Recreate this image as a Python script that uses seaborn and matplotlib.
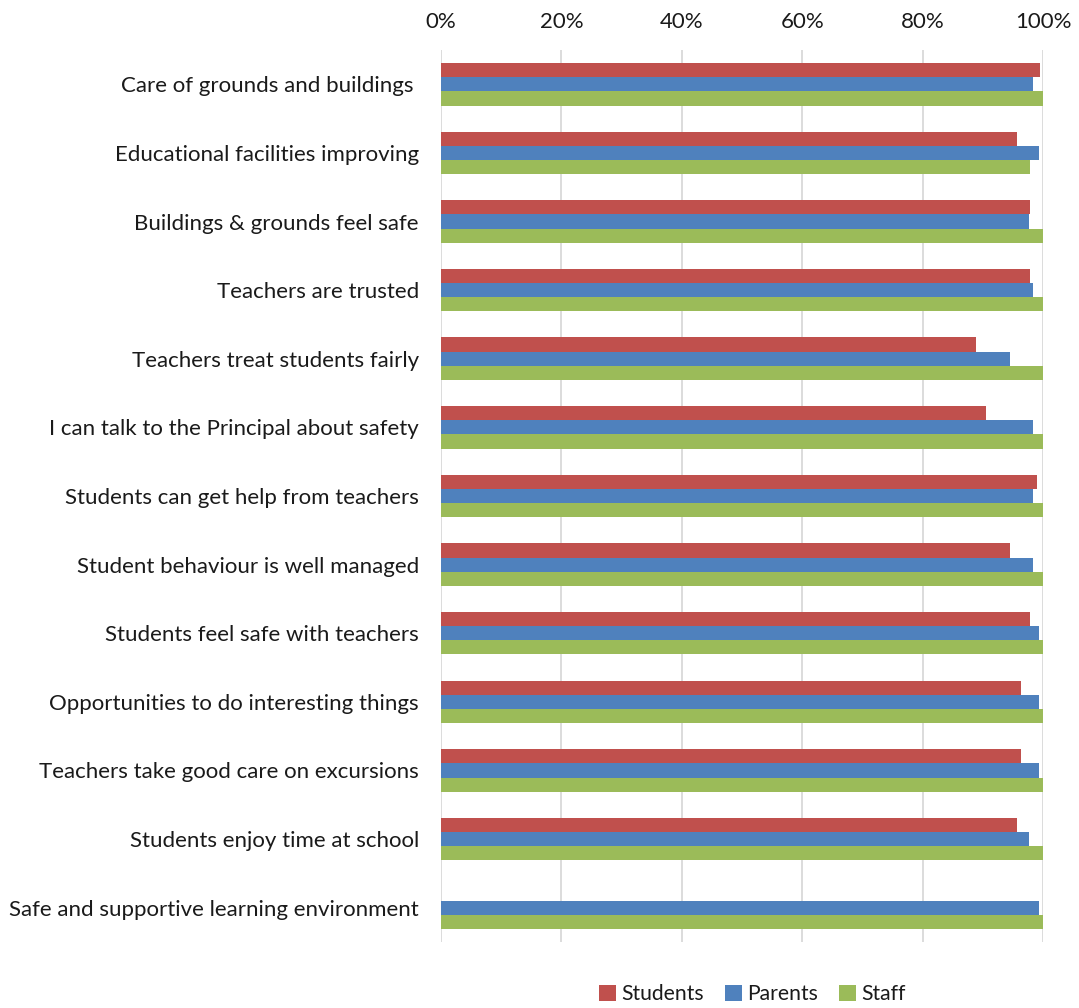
import matplotlib
matplotlib.use("Agg")
import matplotlib.pyplot as plt
import seaborn as sns
import pandas as pd
import numpy as np
from matplotlib.ticker import PercentFormatter

categories = [
    "Care of grounds and buildings ",
    "Educational facilities improving",
    "Buildings & grounds feel safe",
    "Teachers are trusted",
    "Teachers treat students fairly",
    "I can talk to the Principal about safety",
    "Students can get help from teachers",
    "Student behaviour is well managed",
    "Students feel safe with teachers",
    "Opportunities to do interesting things",
    "Teachers take good care on excursions",
    "Students enjoy time at school",
    "Safe and supportive learning environment",
]
students = [99.5, 95.7, 97.9, 97.9, 88.9, 90.5, 99.0, 94.6, 97.9, 96.3, 96.3, 95.7, np.nan]
parents = [98.4, 99.3, 97.7, 98.4, 94.6, 98.4, 98.4, 98.4, 99.3, 99.3, 99.3, 97.7, 99.3]
staff = [100, 97.8, 100, 100, 100, 100, 100, 100, 100, 100, 100, 100, 100]
series = ["Students", "Parents", "Staff"]
colors = ["#C0504D", "#4F81BD", "#9BBB59"]

rows = []
for name, vals in zip(series, [students, parents, staff]):
    for c, v in zip(categories, vals):
        rows.append({"Category": c, "Group": name, "Value": v})
df = pd.DataFrame(rows)

sns.set_theme(style="white")
plt.rcParams["font.family"] = ["Lato", "DejaVu Sans"]

fig = plt.figure(figsize=(10.79, 10.08), dpi=100)
ax = fig.add_axes([0.4087, 0.0655, 0.5579, 0.8849])

sns.barplot(data=df, y="Category", x="Value", hue="Group", order=categories,
            hue_order=series, palette=colors, orient="h", width=0.62,
            saturation=1, ax=ax, errorbar=None, legend=True, linewidth=0)

ax.set_xlim(0, 100)
ax.set_xticks([0, 20, 40, 60, 80, 100])
ax.xaxis.set_major_formatter(PercentFormatter(decimals=0))
ax.xaxis.tick_top()
ax.tick_params(axis="x", length=0, labelsize=16, pad=13, colors="#1a1a1a")
ax.tick_params(axis="y", length=0, labelsize=16, pad=16, colors="#1a1a1a")
ax.set_xlabel("")
ax.set_ylabel("")
ax.grid(axis="x", color="#D9D9D9", linewidth=1.3)
ax.set_axisbelow(True)
for s in ax.spines.values():
    s.set_visible(False)

leg = ax.legend(loc="upper center", bbox_to_anchor=(0.517, -0.026), ncol=3,
                frameon=False, fontsize=15.2, handlelength=0.8, handleheight=0.8,
                handletextpad=0.25, columnspacing=1.0, labelcolor="#1a1a1a")

fig.savefig("out.png", dpi=100)
